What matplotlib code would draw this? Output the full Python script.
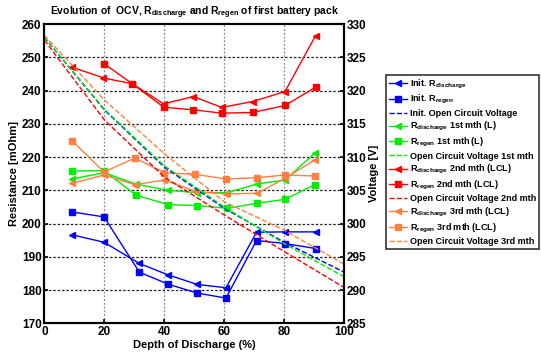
import matplotlib
matplotlib.use('Agg')
import matplotlib.pyplot as plt

# ── Style ────────────────────────────────────────────────────────────────────
plt.rcParams.update({
    'font.family': 'Liberation Sans',
    'font.weight': 'bold',
    'axes.labelweight': 'bold',
    'axes.titleweight': 'bold',
    'mathtext.fontset': 'custom',
    'mathtext.rm': 'Liberation Sans:bold',
    'mathtext.it': 'Liberation Sans:bold',
    'mathtext.bf': 'Liberation Sans:bold',
    'mathtext.default': 'rm',
})

BLUE = '#0000FF'
GREEN = '#00EE00'
RED = '#FF0000'
ORANGE = '#FF8040'

# ── Data ─────────────────────────────────────────────────────────────────────
dod_init = [9.3, 19.9, 31.7, 41.2, 51.0, 60.6, 70.8, 80.3, 90.5]
init_rdis = [196.6, 194.4, 188.0, 184.6, 181.7, 180.7, 197.4, 197.5, 197.5]
init_rreg = [203.5, 202.0, 185.4, 181.8, 179.1, 177.6, 194.9, 194.0, 192.5]

dod_m1 = [9.3, 19.9, 30.5, 41.2, 51.0, 61.0, 70.9, 80.3, 90.3]
m1_rdis = [213.4, 215.3, 211.9, 210.0, 209.3, 209.3, 211.9, 213.1, 221.2]
m1_rreg = [215.8, 215.9, 208.6, 205.7, 205.4, 204.6, 206.1, 207.3, 211.7]

dod_m2 = [9.3, 19.7, 29.4, 39.8, 49.7, 59.2, 69.5, 80.3, 90.5]
m2_rdis = [247.0, 243.8, 242.0, 236.0, 238.2, 234.9, 236.7, 239.7, 256.5]
dod_m2_reg = [19.9, 29.4, 39.8, 49.7, 59.2, 69.5, 80.3, 90.5]
m2_rreg = [248.1, 242.0, 235.0, 234.2, 233.2, 233.4, 235.5, 241.0]

dod_m3 = [9.3, 19.9, 30.2, 40.0, 50.4, 60.6, 71.0, 80.3, 90.4]
m3_rdis = [212.1, 214.6, 211.7, 213.1, 209.7, 208.9, 209.1, 213.6, 219.2]
m3_rreg = [224.9, 215.5, 219.7, 215.3, 214.8, 213.4, 213.8, 214.6, 214.3]

dod_ocv = [0, 20, 40, 60, 80, 100]
ocv_init = [328.0, 317.1, 308.5, 302.3, 297.2, 292.7]
ocv_m1 = [328.0, 317.2, 308.7, 302.5, 297.0, 292.0]
ocv_m2 = [327.6, 315.6, 307.0, 301.3, 295.8, 290.4]
ocv_m3 = [328.3, 318.6, 310.5, 303.3, 299.0, 293.9]

# ── Figure ───────────────────────────────────────────────────────────────────
fig = plt.figure(figsize=(5.41, 3.53), dpi=100)
ax = fig.add_axes([0.082, 0.084, 0.554, 0.848])
ax2 = ax.twinx()

mk = dict(markersize=4.5, linewidth=1.0)
h = []
h += ax.plot(dod_init, init_rdis, '<-', color=BLUE, label=r'Init. R$_{discharge}$', **mk)
h += ax.plot(dod_init, init_rreg, 's-', color=BLUE, label=r'Init. R$_{regen}$', **mk)
h += ax2.plot(dod_ocv, ocv_init, '--', color=BLUE, lw=1.0, label='Init. Open Circuit Voltage')
h += ax.plot(dod_m1, m1_rdis, '<-', color=GREEN, label=r'R$_{discharge}$ 1st mth (L)', **mk)
h += ax.plot(dod_m1, m1_rreg, 's-', color=GREEN, label=r'R$_{regen}$ 1st mth (L)', **mk)
h += ax2.plot(dod_ocv, ocv_m1, '--', color=GREEN, lw=1.0, label='Open Circuit Voltage 1st mth')
h += ax.plot(dod_m2, m2_rdis, '<-', color=RED, label=r'R$_{discharge}$ 2nd mth (LCL)', **mk)
h += ax.plot(dod_m2_reg, m2_rreg, 's-', color=RED, label=r'R$_{regen}$ 2nd mth (LCL)', **mk)
h += ax2.plot(dod_ocv, ocv_m2, '--', color=RED, lw=1.0, label='Open Circuit Voltage 2nd mth')
h += ax.plot(dod_m3, m3_rdis, '<-', color=ORANGE, label=r'R$_{discharge}$ 3rd mth (LCL)', **mk)
h += ax.plot(dod_m3, m3_rreg, 's-', color=ORANGE, label=r'R$_{regen}$ 3rd mth (LCL)', **mk)
h += ax2.plot(dod_ocv, ocv_m3, '--', color=ORANGE, lw=1.0, label='Open Circuit Voltage 3rd mth')

ax.set_xlim(0, 100)
ax.set_ylim(170, 260)
ax2.set_ylim(285, 330)
ax.set_xticks(range(0, 101, 20))
ax.set_yticks(range(170, 261, 10))
ax2.set_yticks(range(285, 331, 5))

# grid: dark horizontal, grey vertical
for yv in range(180, 260, 10):
    ax.axhline(yv, color='#222222', linestyle=(0, (2, 1.5)), linewidth=0.9, zorder=0)
for xv in range(20, 100, 20):
    ax.axvline(xv, color='#888888', linestyle=(0, (1.5, 1.5)), linewidth=0.9, zorder=0)

for a in (ax, ax2):
    a.tick_params(direction='in', labelsize=8.5, width=1.2, length=3, pad=2)
    for s in a.spines.values():
        s.set_linewidth(1.5)

ax.set_xlabel('Depth of Discharge (%)', fontsize=8, labelpad=1)
ax.set_ylabel('Resistance [mOhm]', fontsize=8, labelpad=2)
ax2.set_ylabel('Voltage [V]', fontsize=8, labelpad=2)
ax.set_title('Evolution of  OCV, R$_{discharge}$ and R$_{regen}$ of first battery pack',
             fontsize=7.5, pad=6)

leg = fig.legend(handles=h, loc='upper left', bbox_to_anchor=(0.714, 0.788),
                 fontsize=6.5, frameon=True, fancybox=False, edgecolor='black',
                 handlelength=2.0, handletextpad=0.3, labelspacing=0.28,
                 borderpad=0.3, borderaxespad=0)
leg.get_frame().set_linewidth(1.2)

fig.savefig('out.png', dpi=100)
